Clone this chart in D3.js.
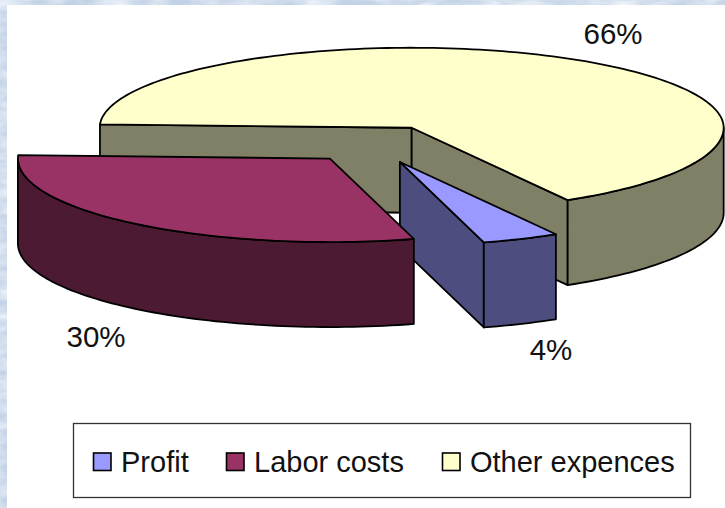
<!DOCTYPE html>
<html>
<head>
<meta charset="utf-8">
<script src="https://cdn.jsdelivr.net/npm/d3@7"></script>
<style>
html,body{margin:0;padding:0;background:#fff;overflow:hidden}
text{font-family:"Liberation Sans",Arial,sans-serif;fill:#111}
</style>
</head>
<body>
<div id="chart"></div>
<script>
var categories = ["Profit","Labor costs","Other expences"];
var shares = [4,30,66];
var topColors = ["#9999ff","#993366","#ffffcc"];
var sideColors = ["#4d4d80","#4d1a33","#808066"];

var W = 725, H = 508;
var cx = 374.5, cy = 143.5, rx = 312, ryBack = 80, ryFront = 83.5, depth = 85;
var explodeX = [0.21,0.23,0.23], explodeY = [0.24,0.23,0.23];
var startDeg = 150;
var labelPos = [[551,360],[96,347],[613,44]];

var svg = d3.select("#chart").append("svg").attr("width",W).attr("height",H);

// marbled backdrop behind the white panel
var defs = svg.append("defs");
var f = defs.append("filter").attr("id","marble").attr("x",0).attr("y",0).attr("width","100%").attr("height","100%");
f.append("feTurbulence").attr("type","fractalNoise").attr("baseFrequency","0.03 0.09").attr("numOctaves",3).attr("seed",4);
f.append("feColorMatrix").attr("values","0 0 0 0 0.93  0 0 0 0 0.95  0 0 0 0 0.98  1.6 0 0 0 -0.5");
svg.append("rect").attr("width",W).attr("height",H).attr("fill","#c3d3e7");
svg.append("rect").attr("width",W).attr("height",H).attr("filter","url(#marble)");
svg.append("rect").attr("x",7).attr("y",5).attr("width",W-7).attr("height",H-5).attr("fill","#fff");

var pie = d3.pie().sort(null)
  .startAngle(startDeg*Math.PI/180)
  .endAngle((startDeg+360)*Math.PI/180);
// near half of the ellipse is a little deeper than the far half
function ry(a){ return Math.cos(a)<0 ? ryFront : ryBack; }
var slices = pie(shares).map(function(d,i){
  var mid = (d.startAngle+d.endAngle)/2;
  return {i:i,a0:d.startAngle,a1:d.endAngle,
    ox:cx+explodeX[i]*rx*Math.sin(mid), oy:cy-explodeY[i]*ry(mid)*Math.cos(mid)};
});

var line = d3.line();
function pt(s,a,dz){ return [s.ox+rx*Math.sin(a), s.oy-ry(a)*Math.cos(a)+(dz||0)]; }
function rim(s,a0,a1,dz){
  var n = Math.max(2,Math.ceil((a1-a0)*40)), out = [];
  for(var k=0;k<=n;k++) out.push(pt(s,a0+(a1-a0)*k/n,dz));
  return out;
}
function poly(g,points,fill){
  g.append("path").attr("d",line(points)+"Z").attr("fill",fill)
   .attr("stroke","#000").attr("stroke-width",1.8).attr("stroke-linejoin","round");
}
// one radial wall, apex to the rim at angle a
function wall(g,s,a,fill){
  var o=[s.ox,s.oy], e=pt(s,a);
  poly(g,[o,e,[e[0],e[1]+depth],[o[0],o[1]+depth]],fill);
}
// outer wall, only the part that faces the viewer (90..270 deg, also +360)
function outer(g,s,fill){
  [0,2*Math.PI].forEach(function(off){
    var lo = Math.max(s.a0,Math.PI/2+off), hi = Math.min(s.a1,1.5*Math.PI+off);
    if(hi>lo) poly(g,rim(s,lo,hi).concat(rim(s,lo,hi,depth).reverse()),fill);
  });
}
function topFace(g,s,fill){
  poly(g,[[s.ox,s.oy]].concat(rim(s,s.a0,s.a1)),fill);
}

var pieG = svg.append("g");
// back to front: other, profit, labor
[2,0,1].forEach(function(i){
  var s = slices[i], g = pieG.append("g").attr("class","slice");
  if(i===2){ wall(g,s,s.a0,sideColors[i]); wall(g,s,s.a1,sideColors[i]); }
  if(i===0){ wall(g,s,s.a1,sideColors[i]); }
  outer(g,s,sideColors[i]);
  topFace(g,s,topColors[i]);
});

// percent labels
svg.selectAll("text.pct").data(shares).enter().append("text")
  .attr("class","pct")
  .attr("x",function(d,i){return labelPos[i][0];})
  .attr("y",function(d,i){return labelPos[i][1];})
  .attr("text-anchor","middle").attr("font-size",29.5)
  .text(function(d){return d+"%";});

// legend
var legend = svg.append("g");
legend.append("rect").attr("x",73.5).attr("y",423.5).attr("width",617).attr("height",74)
  .attr("fill","#fff").attr("stroke","#333").attr("stroke-width",1.3);
var legendX = [93.5,226.5,442.5];
categories.forEach(function(c,i){
  legend.append("rect").attr("x",legendX[i]).attr("y",453).attr("width",17.5).attr("height",17.5)
    .attr("fill",topColors[i]).attr("stroke","#000").attr("stroke-width",1.6);
  legend.append("text").attr("x",legendX[i]+27.5).attr("y",472).attr("font-size",29).text(c);
});
</script>
</body>
</html>
